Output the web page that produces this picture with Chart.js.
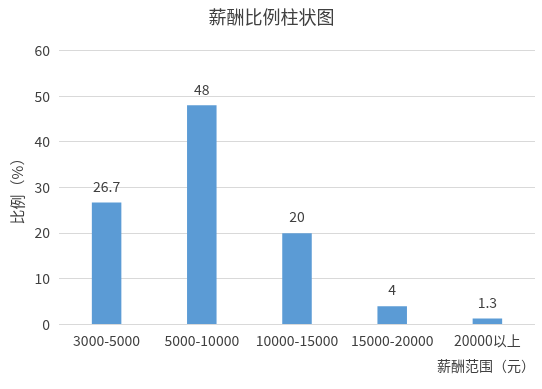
<!DOCTYPE html>
<html>
<head>
<meta charset="utf-8">
<script src="https://cdn.jsdelivr.net/npm/chart.js@4"></script>
<style>
  html, body { margin: 0; padding: 0; background: #fff; }
  #wrap { width: 542px; height: 389px; }
</style>
</head>
<body>
<div id="wrap"><canvas id="salaryChart"></canvas></div>
<script>
const categories = ["3000-5000", "5000-10000", "10000-15000", "15000-20000", "20000以上"];
const ratios = [26.7, 48, 20, 4, 1.3];
const yTicks = [0, 10, 20, 30, 40, 50, 60];

const font = "'Noto Sans CJK SC', 'Noto Sans', sans-serif";
const textColor = "#404040";

// draws the value above each bar
const valueLabels = {
  id: "valueLabels",
  afterDatasetsDraw(chart) {
    const ctx = chart.ctx;
    const meta = chart.getDatasetMeta(0);
    ctx.save();
    ctx.font = "14px " + font;
    ctx.fillStyle = textColor;
    ctx.textAlign = "center";
    ctx.textBaseline = "bottom";
    meta.data.forEach((bar, i) => {
      ctx.fillText(String(ratios[i]), bar.x, bar.y - 9);
    });
    ctx.restore();
  }
};

new Chart(document.getElementById("salaryChart"), {
  type: "bar",
  data: {
    labels: categories,
    datasets: [
      {
        data: ratios,
        backgroundColor: "#5b9bd5",
        categoryPercentage: 1,
        barPercentage: 0.31,
      },
    ],
  },
  options: {
    responsive: true,
    maintainAspectRatio: false,
    animation: false,
    layout: { padding: { top: 6, right: 7, bottom: 15, left: 8 } },
    plugins: {
      legend: { display: false },
      tooltip: { enabled: false },
      title: {
        display: true,
        text: "薪酬比例柱状图",
        color: textColor,
        font: { family: font, size: 18, weight: "normal" },
        padding: { top: 0, bottom: 23 },
      },
    },
    scales: {
      x: {
        grid: { display: false },
        border: { display: false },
        ticks: {
          color: textColor,
          font: { family: font, size: 14 },
          padding: 0,
          maxRotation: 0,
        },
        title: {
          display: true,
          text: "薪酬范围（元）",
          align: "end",
          color: textColor,
          font: { family: font, size: 14 },
          padding: { top: 8, bottom: 0 },
        },
      },
      y: {
        min: 0,
        max: 60,
        afterBuildTicks(scale) {
          scale.ticks = yTicks.map((v) => ({ value: v }));
        },
        afterFit(scale) {
          scale.width = 51;
        },
        grid: { color: "#d9d9d9", drawTicks: false },
        border: { display: false },
        ticks: {
          color: textColor,
          font: { family: font, size: 14 },
          padding: 9,
        },
        title: {
          display: true,
          text: "比例（%）",
          color: textColor,
          font: { family: font, size: 15 },
          padding: { top: 0, bottom: 0 },
        },
      },
    },
  },
  plugins: [valueLabels],
});
</script>
</body>
</html>
